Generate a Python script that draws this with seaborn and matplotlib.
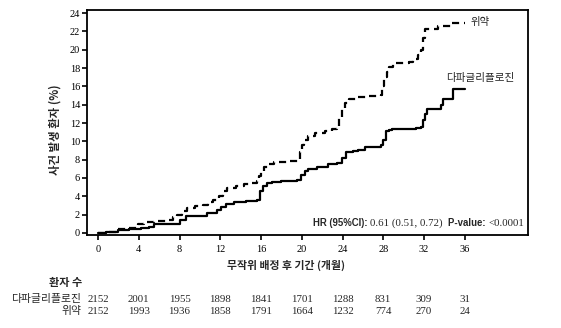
import numpy as np
import pandas as pd
import matplotlib
matplotlib.use("Agg")
import matplotlib.pyplot as plt
import matplotlib.transforms as mtransforms
import seaborn as sns

# ---- data ----
dapa_month = [0, 0.8, 2, 3, 4.2, 5.0, 5.5, 7.8, 8.0, 8.6, 10.0, 10.7, 11.7, 12.1, 12.6,
              13.3, 14.5, 15.6, 15.9, 16.2, 16.6, 17.1, 18.0, 19.5, 19.9, 20.3, 20.6,
              21.5, 22.6, 23.5, 23.9, 24.3, 25.0, 25.5, 26.2, 27.8, 28.0, 28.3, 28.6,
              28.9, 31.2, 31.7, 31.9, 32.1, 32.3, 33.7, 33.9, 34.8, 36.0]
dapa_pct = [0, 0.15, 0.35, 0.45, 0.55, 0.7, 0.95, 1.0, 1.4, 1.8, 1.9, 2.2, 2.5, 2.8, 3.2,
            3.4, 3.5, 3.6, 4.6, 5.1, 5.4, 5.6, 5.7, 5.8, 6.3, 6.8, 7.0,
            7.2, 7.5, 7.6, 8.2, 8.8, 8.9, 9.1, 9.4, 9.6, 10.2, 11.1, 11.2,
            11.4, 11.5, 11.6, 12.3, 13.0, 13.5, 14.0, 14.6, 15.7, 15.7]

plac_month = [0, 0.8, 2.0, 3.0, 3.9, 4.5, 5.5, 7.0, 7.4, 7.8, 8.2, 8.7, 9.5, 10.3, 10.8,
              11.3, 11.9, 12.3, 12.7, 13.5, 14.3, 15.0, 15.6, 15.8, 16.0, 16.3, 16.8,
              17.3, 18.5, 19.6, 19.8, 20.0, 20.2, 20.6, 21.3, 22.3, 23.0, 23.5, 23.7,
              23.9, 24.2, 24.6, 25.5, 26.5, 27.8, 27.9, 28.1, 28.4, 28.6, 29.0, 30.5,
              30.9, 31.4, 31.7, 31.9, 32.1, 33.4, 34.7, 36.0]
plac_pct = [0, 0.15, 0.4, 0.5, 1.0, 1.2, 1.3, 1.45, 1.7, 2.0, 2.4, 2.7, 2.9, 3.1, 3.4,
            3.6, 4.0, 4.6, 4.9, 5.1, 5.3, 5.5, 5.7, 6.2, 6.8, 7.2, 7.5,
            7.7, 7.8, 8.0, 8.8, 9.6, 10.2, 10.6, 10.9, 11.1, 11.3, 11.6, 12.6,
            13.5, 14.2, 14.6, 14.8, 15.0, 15.1, 16.0, 17.0, 17.6, 18.1, 18.6, 18.7,
            19.0, 19.4, 20.0, 21.3, 22.3, 22.6, 22.9, 22.9]

group_names = ["다파글리플로진", "위약"]
x_ticks = [0, 4, 8, 12, 16, 20, 24, 28, 32, 36]
y_ticks = [0, 2, 4, 6, 8, 10, 12, 14, 16, 18, 20, 22, 24]
risk_dapa = [2152, 2001, 1955, 1898, 1841, 1701, 1288, 831, 309, 31]
risk_plac = [2152, 1993, 1936, 1858, 1791, 1664, 1232, 774, 270, 24]

df = pd.concat([
    pd.DataFrame({"month": dapa_month, "pct": dapa_pct, "group": group_names[0]}),
    pd.DataFrame({"month": plac_month, "pct": plac_pct, "group": group_names[1]}),
], ignore_index=True)

# ---- figure ----
sns.set_theme(style="white")
plt.rcParams["font.family"] = ["Noto Sans CJK KR", "DejaVu Sans"]

fig = plt.figure(figsize=(5.61, 3.28), dpi=100)
ax = fig.add_axes([87/561, 1-235/328, 441/561, 225/328])

sns.lineplot(data=df, x="month", y="pct", style="group", hue="group",
             palette={group_names[0]: "black", group_names[1]: "black"},
             dashes={group_names[0]: "", group_names[1]: (3.2, 2.2)},
             drawstyle="steps-post", estimator=None, sort=False,
             linewidth=1.6, legend=False, ax=ax)

ax.set_xlim(-1.08, 42.2)
ax.set_ylim(-0.22, 24.33)
ax.set_xticks(x_ticks)
ax.set_yticks(y_ticks)
serif = "Liberation Serif"
ax.set_xticklabels([str(t) for t in x_ticks], family=serif, fontsize=7.5)
ax.set_yticklabels([str(t) for t in y_ticks], family=serif, fontsize=7.5)
ax.tick_params(axis="both", direction="out", length=3.5, width=1.2, color="black",
               left=True, bottom=True, labelcolor="black")
ax.tick_params(axis="x", pad=4)
ax.tick_params(axis="y", pad=1.5)
for s in ax.spines.values():
    s.set_color("black")
    s.set_linewidth(1.3)

ax.set_xlabel("무작위 배정 후 기간 (개월)", fontsize=7.8, fontweight="bold", va="center")
ax.xaxis.set_label_coords((286-87)/441, (235-265)/225)
ax.set_ylabel("사건 발생 환자 (%)", fontsize=8.2, fontweight="bold", va="center")
ax.yaxis.set_label_coords((55-87)/441, (235-130)/225)

# curve labels
ax.text(36.6, 23.0, "위약", fontsize=7.5, ha="left", va="center", color="#222222")
ax.text(34.2, 16.9, "다파글리플로진", fontsize=7.6, ha="left", va="center", color="#222222")

# HR annotation
t1 = ax.text(21.1, 1.06, "HR (95%CI): ", family="Liberation Sans", fontweight="bold",
             fontsize=6.9, ha="left", va="center")
t2 = ax.annotate("0.61 (0.51, 0.72)  ", xy=(1, 0), xycoords=t1, va="bottom",
                 family=serif, fontsize=7.8)
t3 = ax.annotate("P-value: ", xy=(1, 0), xycoords=t2, va="bottom",
                 family="Liberation Sans", fontweight="bold", fontsize=6.9)
t4 = ax.annotate("<0.0001", xy=(1, 0), xycoords=t3, va="bottom",
                 family=serif, fontsize=7.8)

# number at risk table
trans = mtransforms.blended_transform_factory(ax.transData, fig.transFigure)
fig.text(66/561, 1-282.7/328, "환자 수", fontsize=8, fontweight="bold", ha="center", va="center")
fig.text(81/561, 1-299/328, group_names[0], fontsize=7.8, ha="right", va="center")
fig.text(81/561, 1-311/328, group_names[1], fontsize=7.8, ha="right", va="center")
for m, a, b in zip(x_ticks, risk_dapa, risk_plac):
    ax.text(m, 1-299/328, str(a), transform=trans, family=serif, fontsize=7.8,
            ha="center", va="center")
    ax.text(m, 1-311/328, str(b), transform=trans, family=serif, fontsize=7.8,
            ha="center", va="center")

fig.savefig("out.png", dpi=100)
